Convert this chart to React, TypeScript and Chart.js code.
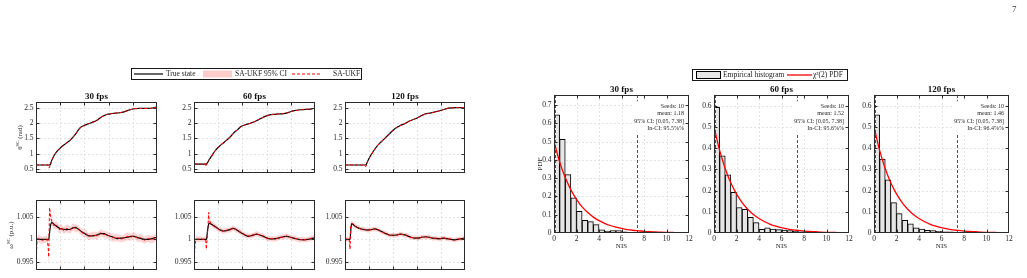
import React, { useEffect, useRef } from 'react';
import { Chart, registerables } from 'chart.js';
Chart.register(...registerables);

const SERIF = '"Liberation Serif", "DejaVu Serif", serif';
const INK = '#262626';

// ---------- tick labels ----------
const timeTicks = [0, 2, 4, 6, 8, 10];
const thetaTicks = [0.5, 1, 1.5, 2, 2.5];
const omegaTicks = [0.995, 1, 1.005];
const nisTicks = [0, 2, 4, 6, 8, 10, 12];
const pdfTicks30 = [0, 0.1, 0.2, 0.3, 0.4, 0.5, 0.6, 0.7];
const pdfTicks = [0, 0.1, 0.2, 0.3, 0.4, 0.5, 0.6];
const fpsTitles = ['30 fps', '60 fps', '120 fps'];

// ---------- theta (rad) ----------
const th30T = [0, 0.5, 1.0, 1.08, 1.17, 1.3, 1.44, 1.7, 2.0, 2.4, 2.83, 3.2, 3.67, 4.0, 4.4, 4.78, 5.0, 5.33, 5.6, 5.9, 6.2, 6.44, 6.9, 7.28, 7.7, 8.1, 8.5, 8.94, 9.4, 9.7, 10];
const th30True = [0.63, 0.63, 0.63, 0.63, 0.64, 0.78, 0.9, 1.06, 1.18, 1.31, 1.44, 1.6, 1.85, 1.92, 1.98, 2.04, 2.08, 2.17, 2.23, 2.28, 2.3, 2.31, 2.33, 2.36, 2.42, 2.46, 2.47, 2.47, 2.47, 2.49, 2.52];
const th30Est = [0.63, 0.63, 0.63, 0.53, 0.62, 0.78, 0.9, 1.06, 1.18, 1.31, 1.44, 1.6, 1.85, 1.92, 1.98, 2.04, 2.08, 2.17, 2.23, 2.28, 2.3, 2.31, 2.33, 2.36, 2.42, 2.46, 2.47, 2.47, 2.47, 2.49, 2.52];

const th60T = [0, 0.5, 0.9, 1.02, 1.1, 1.25, 1.44, 1.7, 1.99, 2.3, 2.68, 3.0, 3.23, 3.6, 3.92, 4.25, 4.61, 5.17, 5.6, 6.0, 6.35, 6.69, 7.0, 7.38, 7.8, 8.2, 8.9, 9.59, 10];
const th60True = [0.66, 0.66, 0.66, 0.66, 0.7, 0.8, 0.91, 1.07, 1.2, 1.31, 1.43, 1.55, 1.65, 1.78, 1.89, 1.94, 1.98, 2.07, 2.16, 2.23, 2.27, 2.28, 2.29, 2.3, 2.34, 2.39, 2.43, 2.45, 2.48];
const th60Est = [0.66, 0.66, 0.66, 0.58, 0.7, 0.8, 0.91, 1.07, 1.2, 1.31, 1.43, 1.55, 1.65, 1.78, 1.89, 1.94, 1.98, 2.07, 2.16, 2.23, 2.27, 2.28, 2.29, 2.3, 2.34, 2.39, 2.43, 2.45, 2.48];

const th120T = [0, 0.5, 1.0, 1.5, 1.75, 1.85, 2.08, 2.35, 2.64, 2.9, 3.19, 3.61, 4.03, 4.3, 4.58, 5.0, 5.42, 5.97, 6.3, 6.67, 7.1, 7.64, 8.1, 8.61, 9.31, 10];
const th120True = [0.63, 0.63, 0.63, 0.63, 0.64, 0.72, 0.9, 1.07, 1.23, 1.34, 1.45, 1.61, 1.77, 1.85, 1.91, 1.98, 2.07, 2.15, 2.22, 2.29, 2.32, 2.37, 2.42, 2.48, 2.5, 2.5];
const th120Est = [0.63, 0.63, 0.63, 0.63, 0.58, 0.72, 0.9, 1.07, 1.23, 1.34, 1.45, 1.61, 1.77, 1.85, 1.91, 1.98, 2.07, 2.15, 2.22, 2.29, 2.32, 2.37, 2.42, 2.48, 2.5, 2.5];

// ---------- omega (p.u.) ----------
const w30T = [0, 0.08, 0.15, 0.5, 0.9, 1.0, 1.05, 1.12, 1.22, 1.31, 1.5, 1.72, 1.95, 2.1, 2.28, 2.55, 2.83, 3.05, 3.25, 3.5, 3.8, 4.1, 4.36, 4.7, 5.06, 5.35, 5.6, 5.95, 6.3, 6.72, 7.1, 7.55, 7.85, 8.1, 8.4, 8.67, 8.95, 9.2, 9.6, 10];
const w30True = [1.0, 1.0, 1.0, 1.0, 1.0, 1.0, 1.0, 1.0015, 1.0034, 1.0038, 1.0034, 1.0029, 1.0025, 1.0024, 1.0023, 1.0022, 1.0023, 1.0026, 1.0027, 1.0023, 1.0017, 1.0012, 1.0008, 1.0008, 1.001, 1.0013, 1.0013, 1.0009, 1.0006, 1.0002, 1.0003, 1.0005, 1.0007, 1.0007, 1.0004, 1.0002, 1.0, 1.0, 1.0002, 1.0005];
const w30Est = [0.9932, 0.9996, 1.0002, 0.9998, 1.0001, 0.9985, 0.996, 1.0072, 1.005, 1.004, 1.003, 1.0032, 1.0022, 1.0027, 1.002, 1.0025, 1.0021, 1.0028, 1.0025, 1.0024, 1.0015, 1.0014, 1.0006, 1.001, 1.0008, 1.0015, 1.0011, 1.001, 1.0004, 1.0004, 1.0001, 1.0007, 1.0005, 1.0009, 1.0002, 1.0004, 0.9998, 1.0002, 1.0, 1.0006];
const w30Ci = [0.0012, 0.001, 0.0009, 0.0008, 0.0008, 0.0009, 0.001, 0.001, 0.0009, 0.0009,
  0.0008, 0.0009, 0.0009, 0.0008, 0.0008, 0.0009, 0.0008, 0.0008, 0.0009, 0.0008,
  0.0008, 0.0009, 0.0008, 0.0008, 0.0009, 0.0008, 0.0008, 0.0008, 0.0009, 0.0008,
  0.0008, 0.0009, 0.0008, 0.0008, 0.0008, 0.0009, 0.0008, 0.0008, 0.0009, 0.0008];

const w60T = [0, 0.08, 0.15, 0.5, 0.9, 0.97, 1.02, 1.12, 1.22, 1.24, 1.4, 1.57, 1.8, 1.99, 2.2, 2.4, 2.7, 2.96, 3.23, 3.5, 3.78, 4.1, 4.48, 4.8, 5.17, 5.45, 5.72, 6.05, 6.4, 6.75, 7.1, 7.4, 7.65, 8.0, 8.34, 8.7, 9.03, 9.3, 9.59, 10];
const w60True = [1.0, 1.0, 1.0, 1.0, 1.0, 1.0, 1.0, 1.002, 1.0035, 1.0037, 1.0035, 1.0032, 1.0028, 1.0024, 1.0021, 1.0019, 1.002, 1.0022, 1.0025, 1.0022, 1.0017, 1.0012, 1.0007, 1.0009, 1.0012, 1.001, 1.0007, 1.0003, 1.0001, 1.0002, 1.0004, 1.0006, 1.0007, 1.0005, 1.0002, 1.0, 0.9999, 1.0, 1.0001, 1.0004];
const w60Est = [0.9945, 0.9985, 1.0, 1.0001, 1.0, 1.0, 0.9978, 1.0015, 1.0061, 1.0045, 1.0036, 1.0031, 1.0029, 1.0023, 1.0022, 1.0018, 1.0021, 1.0021, 1.0026, 1.0021, 1.0018, 1.0011, 1.0008, 1.0008, 1.0013, 1.0009, 1.0008, 1.0002, 1.0002, 1.0001, 1.0005, 1.0005, 1.0008, 1.0004, 1.0003, 0.9999, 1.0, 0.9999, 1.0002, 1.0005];
const w60Ci = [0.001, 0.0008, 0.0007, 0.0006, 0.0006, 0.0006, 0.0007, 0.0007, 0.0007, 0.0006,
  0.0006, 0.0006, 0.0006, 0.0006, 0.0006, 0.0006, 0.0006, 0.0006, 0.0006, 0.0006,
  0.0006, 0.0006, 0.0006, 0.0006, 0.0006, 0.0006, 0.0006, 0.0006, 0.0006, 0.0006,
  0.0006, 0.0006, 0.0006, 0.0006, 0.0006, 0.0006, 0.0006, 0.0006, 0.0006, 0.0006];

const w120T = [0, 0.08, 0.2, 0.35, 0.42, 0.48, 0.55, 0.7, 0.9, 1.1, 1.3, 1.6, 1.9, 2.2, 2.5, 2.8, 3.1, 3.4, 3.7, 4.0, 4.3, 4.6, 4.9, 5.2, 5.5, 5.8, 6.1, 6.4, 6.7, 7.0, 7.3, 7.6, 7.9, 8.2, 8.5, 8.8, 9.1, 9.4, 9.7, 10];
const w120True = [1.0, 1.0, 1.0, 1.0, 1.0, 1.002, 1.0036, 1.0033, 1.0029, 1.0026, 1.0024, 1.0022, 1.0021, 1.0022, 1.0024, 1.0021, 1.0017, 1.0013, 1.001, 1.0009, 1.001, 1.0012, 1.0011, 1.0008, 1.0005, 1.0003, 1.0003, 1.0005, 1.0006, 1.0005, 1.0003, 1.0002, 1.0002, 1.0003, 1.0002, 1.0, 0.9999, 1.0, 1.0002, 1.0003];
const w120Est = [0.9985, 1.0, 1.0001, 1.0, 0.9978, 1.003, 1.0037, 1.0034, 1.0028, 1.0027, 1.0023, 1.0023, 1.002, 1.0023, 1.0023, 1.0022, 1.0016, 1.0014, 1.0009, 1.001, 1.0009, 1.0013, 1.001, 1.0009, 1.0004, 1.0004, 1.0002, 1.0006, 1.0005, 1.0006, 1.0002, 1.0003, 1.0001, 1.0004, 1.0001, 1.0001, 0.9998, 1.0001, 1.0001, 1.0004];
const w120Ci = [0.0007, 0.0006, 0.0005, 0.0005, 0.0005, 0.0006, 0.0006, 0.0005, 0.0005, 0.0005,
  0.0005, 0.0005, 0.0005, 0.0005, 0.0005, 0.0005, 0.0005, 0.0005, 0.0005, 0.0005,
  0.0005, 0.0005, 0.0005, 0.0005, 0.0005, 0.0005, 0.0005, 0.0005, 0.0005, 0.0005,
  0.0005, 0.0005, 0.0005, 0.0005, 0.0005, 0.0005, 0.0005, 0.0005, 0.0005, 0.0005];

// ---------- NIS histograms (bin width 0.5 from 0 to 12) ----------
const nisBinStart = 0;
const nisBinWidth = 0.5;
const hist30 = [0.647, 0.513, 0.319, 0.192, 0.119, 0.07, 0.062, 0.046, 0.018, 0.011, 0.013, 0.013, 0.006, 0.004, 0.003, 0.002, 0.002, 0.001, 0.001, 0.001, 0.0005, 0.0005, 0.0003, 0.0003];
const hist60 = [0.592, 0.364, 0.274, 0.191, 0.12, 0.112, 0.074, 0.049, 0.017, 0.024, 0.019, 0.016, 0.014, 0.011, 0.009, 0.006, 0.005, 0.004, 0.003, 0.002, 0.002, 0.001, 0.001, 0.0005];
const hist120 = [0.557, 0.348, 0.25, 0.143, 0.091, 0.06, 0.043, 0.024, 0.019, 0.013, 0.011, 0.008, 0.006, 0.005, 0.004, 0.003, 0.002, 0.002, 0.001, 0.001, 0.001, 0.0005, 0.0005, 0.0003];

// chi-square(2) PDF curve
const pdfX = [0, 0.5, 1, 1.5, 2, 2.5, 3, 3.5, 4, 4.5, 5, 5.5, 6, 6.5, 7, 7.5, 8, 8.5, 9, 9.5, 10, 10.5, 11, 11.5, 12];
const pdfY = [0.5, 0.389, 0.303, 0.236, 0.184, 0.143, 0.112, 0.087, 0.068, 0.053, 0.041, 0.032, 0.025, 0.019, 0.015, 0.012, 0.009, 0.007, 0.006, 0.004, 0.003, 0.003, 0.002, 0.002, 0.001];

const ciBounds = [0.05, 7.38];
const annot30 = ['Seeds: 10', 'mean: 1.18', '95% CI: [0.05, 7.38]', 'In-CI: 95.5%%'];
const annot60 = ['Seeds: 10', 'mean: 1.52', '95% CI: [0.05, 7.38]', 'In-CI: 95.6%%'];
const annot120 = ['Seeds: 10', 'mean: 1.46', '95% CI: [0.05, 7.38]', 'In-CI: 96.4%%'];

// ---------- helpers ----------
const pts = (xs: number[], ys: number[]) => xs.map((x, i) => ({ x, y: ys[i] }));
const fmt = (v: any) => String(Math.round(Number(v) * 10000) / 10000);

function drawRotLabel(ctx: CanvasRenderingContext2D, cx: number, cy: number, parts: any[], size: number) {
  ctx.save();
  ctx.translate(cx, cy);
  ctx.rotate(-Math.PI / 2);
  ctx.fillStyle = INK;
  ctx.textBaseline = 'middle';
  ctx.textAlign = 'left';
  let total = 0;
  const widths = parts.map((p) => {
    ctx.font = `${p.sup ? size * 0.68 : size}px ${SERIF}`;
    const w = ctx.measureText(p.t).width;
    total += w;
    return w;
  });
  let xx = -total / 2;
  parts.forEach((p, i) => {
    ctx.font = `${p.sup ? size * 0.68 : size}px ${SERIF}`;
    ctx.fillText(p.t, xx, p.sup ? -size * 0.35 : 0);
    xx += widths[i];
  });
  ctx.restore();
}

const framePlugin = {
  id: 'frame',
  beforeDatasetsDraw(chart: any) {
    const { ctx, chartArea: a, scales } = chart;
    const x = scales.x, y = scales.y;
    ctx.save();
    ctx.strokeStyle = '#d9d9d9';
    ctx.lineWidth = 0.7;
    ctx.setLineDash([2, 2]);
    ctx.beginPath();
    for (const t of x.ticks) {
      const px = Math.round(x.getPixelForValue(t.value)) + 0.5;
      if (px <= a.left + 1.5 || px >= a.right - 1.5) continue;
      ctx.moveTo(px, a.top);
      ctx.lineTo(px, a.bottom);
    }
    for (const t of y.ticks) {
      const py = Math.round(y.getPixelForValue(t.value)) + 0.5;
      if (py <= a.top + 1.5 || py >= a.bottom - 1.5) continue;
      ctx.moveTo(a.left, py);
      ctx.lineTo(a.right, py);
    }
    ctx.stroke();
    ctx.restore();
  },
  afterDatasetsDraw(chart: any) {
    const o = chart.options.plugins.frame || {};
    const { ctx, chartArea: a, scales } = chart;
    const x = scales.x;
    ctx.save();
    if (o.ciLines) {
      ctx.strokeStyle = '#3c3c3c';
      ctx.lineWidth = 0.9;
      ctx.setLineDash([3, 2]);
      for (const v of o.ciLines) {
        const px = Math.round(x.getPixelForValue(v)) + 0.5;
        ctx.beginPath();
        ctx.moveTo(px, a.top);
        ctx.lineTo(px, a.bottom);
        ctx.stroke();
      }
      ctx.setLineDash([]);
    }
    if (o.annot) {
      const lh = 7.3;
      ctx.font = `6px ${SERIF}`;
      const right = a.right - 5;
      const y0 = a.top + 11.4;
      let maxW = 0;
      for (const s of o.annot) maxW = Math.max(maxW, ctx.measureText(s).width);
      ctx.fillStyle = '#fff';
      ctx.fillRect(right - maxW - 2, y0 - lh / 2 - 1.5, maxW + 4, lh * o.annot.length + 3);
      ctx.fillStyle = INK;
      ctx.textAlign = 'right';
      ctx.textBaseline = 'middle';
      o.annot.forEach((s: string, i: number) => ctx.fillText(s, right, y0 + i * lh));
    }
    ctx.restore();
  },
  afterDraw(chart: any) {
    const o = chart.options.plugins.frame || {};
    const { ctx, chartArea: a, scales } = chart;
    const x = scales.x, y = scales.y;
    ctx.save();
    ctx.setLineDash([]);
    ctx.strokeStyle = '#2b2b2b';
    ctx.lineWidth = 1;
    const L = Math.round(a.left) + 0.5, R = Math.round(a.right) - 0.5;
    const T = Math.round(a.top) + 0.5, B = Math.round(a.bottom) - 0.5;
    ctx.strokeRect(L, T, R - L, B - T);
    const tl = 3;
    ctx.beginPath();
    for (const t of x.ticks) {
      const px = Math.round(x.getPixelForValue(t.value)) + 0.5;
      if (px <= L + 1 || px >= R - 1) continue;
      ctx.moveTo(px, B); ctx.lineTo(px, B - tl);
      ctx.moveTo(px, T); ctx.lineTo(px, T + tl);
    }
    for (const t of y.ticks) {
      const py = Math.round(y.getPixelForValue(t.value)) + 0.5;
      if (py <= T + 1 || py >= B - 1) continue;
      ctx.moveTo(L, py); ctx.lineTo(L + tl, py);
      ctx.moveTo(R, py); ctx.lineTo(R - tl, py);
    }
    ctx.stroke();
    if (o.title) {
      ctx.font = `bold 9px ${SERIF}`;
      ctx.fillStyle = '#111';
      ctx.textAlign = 'center';
      ctx.textBaseline = 'alphabetic';
      ctx.fillText(o.title, (a.left + a.right) / 2, a.top - 3);
    }
    if (o.yLabel) drawRotLabel(ctx, a.left - o.yLabel.dx, (a.top + a.bottom) / 2, o.yLabel.parts, 7);
    if (o.xLabel) {
      ctx.font = `7px ${SERIF}`;
      ctx.fillStyle = INK;
      ctx.textAlign = 'center';
      ctx.textBaseline = 'middle';
      ctx.fillText(o.xLabel, (a.left + a.right) / 2, a.bottom + 13.5);
    }
    ctx.restore();
  },
};

function yScale(min: number, max: number, ticks: number[], YW: number) {
  return {
    type: 'linear', min, max,
    grid: { display: false, drawTicks: false },
    border: { display: false },
    ticks: { autoSkip: false, font: { family: SERIF, size: 7.5 }, color: INK, padding: 2.5, callback: (v: any) => fmt(v) },
    afterBuildTicks: (s: any) => { s.ticks = ticks.map((v) => ({ value: v })); },
    afterFit: (s: any) => { s.width = YW; s.paddingTop = 0; s.paddingBottom = 0; },
  };
}

function xScale(min: number, max: number, ticks: number[], xh: number, show: boolean) {
  return {
    type: 'linear', min, max, offset: false,
    grid: { display: false, drawTicks: false },
    border: { display: false },
    ticks: { display: show, autoSkip: false, maxRotation: 0, font: { family: SERIF, size: 7.5 }, color: INK, padding: 2, callback: (v: any) => fmt(v) },
    afterBuildTicks: (s: any) => { s.ticks = ticks.map((v) => ({ value: v })); },
    afterFit: (s: any) => { s.height = xh; s.paddingLeft = 0; s.paddingRight = 0; },
  };
}

function baseOptions(padding: any, scales: any, frame: any) {
  return {
    responsive: false,
    animation: false,
    devicePixelRatio: 1,
    events: [],
    layout: { padding, autoPadding: false },
    plugins: { legend: { display: false }, tooltip: { enabled: false }, title: { display: false }, frame },
    scales,
  };
}

function timeConfig(spec: any) {
  return (padding: any, YW: number, xh: number) => {
    const datasets: any[] = [
      { data: pts(spec.t, spec.est), borderColor: '#ff0000', borderWidth: 1, borderDash: [3, 2], pointRadius: 0, fill: false, order: 0 },
      { data: pts(spec.t, spec.truth), borderColor: '#000000', borderWidth: 1.2, pointRadius: 0, fill: false, order: 1, cubicInterpolationMode: 'monotone' },
    ];
    if (spec.ci) {
      datasets.push({ data: spec.t.map((x: number, i: number) => ({ x, y: spec.est[i] - spec.ci[i] })), borderColor: 'transparent', borderWidth: 0, pointRadius: 0, fill: false, order: 2 });
      datasets.push({ data: spec.t.map((x: number, i: number) => ({ x, y: spec.est[i] + spec.ci[i] })), borderColor: 'transparent', borderWidth: 0, pointRadius: 0, fill: '-1', backgroundColor: 'rgba(255,0,0,0.17)', order: 3 });
    }
    return {
      type: 'line',
      data: { datasets },
      options: baseOptions(padding, {
        x: xScale(0, 10, timeTicks, xh, false),
        y: yScale(spec.yMin, spec.yMax, spec.yTicks, YW),
      }, { title: spec.title, yLabel: spec.yLabel }),
      plugins: [framePlugin],
    };
  };
}

function histConfig(spec: any) {
  return (padding: any, YW: number, xh: number) => {
    const centers = spec.hist.map((_: number, i: number) => nisBinStart + nisBinWidth * (i + 0.5));
    return {
      type: 'bar',
      data: {
        datasets: [
          { type: 'line', data: pts(pdfX, pdfY), borderColor: '#ff0000', borderWidth: 1.3, pointRadius: 0, fill: false, cubicInterpolationMode: 'monotone', order: 0 },
          { type: 'bar', data: pts(centers, spec.hist), backgroundColor: '#e6e6e6', borderColor: '#000000', borderWidth: 1, borderSkipped: false, barPercentage: 1, categoryPercentage: 1, order: 1 },
        ],
      },
      options: baseOptions(padding, {
        x: xScale(0, 12, nisTicks, xh, true),
        y: yScale(0, spec.yMax, spec.yTicks, YW),
      }, { title: spec.title, yLabel: spec.yLabel, xLabel: 'NIS', annot: spec.annot, ciLines: ciBounds }),
      plugins: [framePlugin],
    };
  };
}

function ChartBox({ plot, mb, xh, make }: any) {
  const ref = useRef<HTMLCanvasElement>(null);
  const ML = 34, MT = 14, MR = 6, YW = 30;
  const [px, py, pw, ph] = plot;
  const cw = pw + ML + MR, ch = ph + MT + mb;
  useEffect(() => {
    const cfg = make({ left: ML - YW, top: MT, right: MR, bottom: mb - xh }, YW, xh);
    const chart = new Chart(ref.current as HTMLCanvasElement, cfg as any);
    return () => chart.destroy();
  }, []);
  return (
    <canvas ref={ref} width={cw} height={ch}
      style={{ position: 'absolute', left: px - ML, top: py - MT, width: cw, height: ch }} />
  );
}

const thetaLabel = { dx: 15.5, parts: [{ t: 'θ' }, { t: 'SC', sup: true }, { t: ' (rad)' }] };
const omegaLabel = { dx: 24.5, parts: [{ t: 'ω' }, { t: 'SC', sup: true }, { t: ' (p.u.)' }] };
const pdfLabel = { dx: 14, parts: [{ t: 'PDF' }] };

const thetaRects = [[36, 102, 121, 71], [194, 102, 121, 71], [345, 102, 120, 71]];
const omegaRects = [[36, 200, 121, 70], [194, 200, 121, 70], [345, 200, 120, 70]];
const histRects = [[554, 95, 135, 138], [714, 95, 135, 138], [874, 95, 135, 138]];

const thetaSpecs = [
  { t: th30T, truth: th30True, est: th30Est },
  { t: th60T, truth: th60True, est: th60Est },
  { t: th120T, truth: th120True, est: th120Est },
].map((s, i) => ({ ...s, yMin: 0.37, yMax: 2.68, yTicks: thetaTicks, title: fpsTitles[i], yLabel: i === 0 ? thetaLabel : null }));

const omegaSpecs = [
  { t: w30T, truth: w30True, est: w30Est, ci: w30Ci },
  { t: w60T, truth: w60True, est: w60Est, ci: w60Ci },
  { t: w120T, truth: w120True, est: w120Est, ci: w120Ci },
].map((s, i) => ({ ...s, yMin: 0.9931, yMax: 1.0089, yTicks: omegaTicks, title: null, yLabel: i === 0 ? omegaLabel : null }));

const histSpecs = [
  { hist: hist30, annot: annot30, yMax: 0.755, yTicks: pdfTicks30, yLabel: pdfLabel },
  { hist: hist60, annot: annot60, yMax: 0.65, yTicks: pdfTicks, yLabel: null },
  { hist: hist120, annot: annot120, yMax: 0.65, yTicks: pdfTicks, yLabel: null },
].map((s, i) => ({ ...s, title: fpsTitles[i] }));

export default function App() {
  const legRef = useRef<HTMLCanvasElement>(null);
  useEffect(() => {
    document.body.style.margin = '0';
    const c = legRef.current as HTMLCanvasElement;
    const ctx = c.getContext('2d') as CanvasRenderingContext2D;
    ctx.clearRect(0, 0, c.width, c.height);
    ctx.textBaseline = 'middle';
    ctx.textAlign = 'left';
    // left legend
    ctx.strokeStyle = '#000';
    ctx.lineWidth = 0.9;
    ctx.strokeRect(131.5, 68.5, 230, 11);
    ctx.lineWidth = 1.2;
    ctx.beginPath(); ctx.moveTo(134, 74); ctx.lineTo(163, 74); ctx.stroke();
    ctx.font = `7.5px ${SERIF}`;
    ctx.fillStyle = '#222';
    ctx.fillText('True state', 166, 74.3);
    ctx.fillStyle = '#ffcccc';
    ctx.fillRect(203, 70.5, 29, 7);
    ctx.fillStyle = '#222';
    ctx.fillText('SA-UKF 95% CI', 235, 74.3);
    ctx.strokeStyle = '#ff0000';
    ctx.lineWidth = 1;
    ctx.setLineDash([3, 2]);
    ctx.beginPath(); ctx.moveTo(292, 74); ctx.lineTo(320, 74); ctx.stroke();
    ctx.setLineDash([]);
    ctx.fillText('SA-UKF', 333, 74.3);
    // right legend
    ctx.strokeStyle = '#000';
    ctx.lineWidth = 0.9;
    ctx.strokeRect(692.5, 69.5, 155, 11);
    ctx.fillStyle = '#e6e6e6';
    ctx.fillRect(696, 71.5, 25, 7);
    ctx.lineWidth = 1;
    ctx.strokeRect(696.5, 71.5, 24, 7);
    ctx.fillStyle = '#222';
    ctx.fillText('Empirical histogram', 723, 75.3);
    ctx.strokeStyle = '#ff0000';
    ctx.lineWidth = 1.3;
    ctx.beginPath(); ctx.moveTo(787, 75); ctx.lineTo(812, 75); ctx.stroke();
    ctx.fillText('χ²(2) PDF', 813, 75.3);
    // page number
    ctx.font = `9px ${SERIF}`;
    ctx.fillStyle = '#333';
    ctx.fillText('7', 1012, 10);
  }, []);
  return (
    <div style={{ position: 'relative', width: 1027, height: 278, overflow: 'hidden', background: '#fff' }}>
      <canvas ref={legRef} width={1027} height={278} style={{ position: 'absolute', left: 0, top: 0 }} />
      {thetaSpecs.map((s, i) => <ChartBox key={'t' + i} plot={thetaRects[i]} mb={4} xh={0} make={timeConfig(s)} />)}
      {omegaSpecs.map((s, i) => <ChartBox key={'w' + i} plot={omegaRects[i]} mb={4} xh={0} make={timeConfig(s)} />)}
      {histSpecs.map((s, i) => <ChartBox key={'h' + i} plot={histRects[i]} mb={22} xh={12} make={histConfig(s)} />)}
    </div>
  );
}
